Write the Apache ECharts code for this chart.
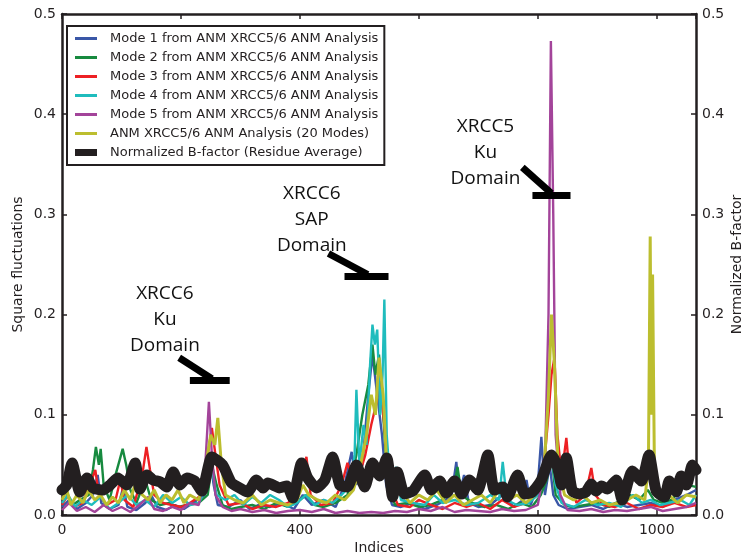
<!DOCTYPE html>
<html>
<head>
<meta charset="utf-8">
<script src="https://cdn.jsdelivr.net/npm/echarts@6/dist/echarts.min.js"></script>
<style>
	html, body { margin: 0; padding: 0; background: #fff; }
	#chart { width: 743px; height: 557px; }
</style>
</head>
<body>
<div id="chart"></div>
<script>
const seriesNames = [
	'Mode 1 from ANM XRCC5/6 ANM Analysis',
	'Mode 2 from ANM XRCC5/6 ANM Analysis',
	'Mode 3 from ANM XRCC5/6 ANM Analysis',
	'Mode 4 from ANM XRCC5/6 ANM Analysis',
	'Mode 5 from ANM XRCC5/6 ANM Analysis',
	'ANM XRCC5/6 ANM Analysis (20 Modes)',
	'Normalized B-factor (Residue Average)'
];
const colors = ['#3a57a7', '#178a3f', '#ed2024', '#1fbcbd', '#a3449a', '#bcbe2f', '#231f20'];

// [index, square fluctuation]
const mode1 = [[0,0.008],[12,0.015],[25,0.006],[40,0.012],[52,0.02],[60,0.04],[66,0.012],[80,0.006],[95,0.01],[103,0.028],[110,0.008],[125,0.005],[140,0.012],[150,0.02],[160,0.008],[175,0.005],[190,0.01],[205,0.006],[220,0.012],[240,0.02],[248,0.06],[255,0.03],[262,0.01],[280,0.008],[300,0.015],[315,0.006],[330,0.01],[350,0.008],[370,0.012],[390,0.006],[405,0.02],[420,0.01],[440,0.015],[460,0.008],[475,0.03],[487,0.063],[495,0.03],[505,0.05],[515,0.12],[522,0.16],[530,0.12],[538,0.08],[545,0.03],[555,0.01],[570,0.008],[590,0.012],[610,0.006],[630,0.01],[645,0.015],[655,0.02],[663,0.053],[668,0.02],[676,0.04],[684,0.012],[700,0.008],[720,0.01],[740,0.02],[760,0.008],[775,0.015],[781,0.035],[788,0.01],[800,0.03],[806,0.078],[812,0.02],[820,0.05],[826,0.02],[835,0.01],[850,0.006],[870,0.008],[890,0.01],[910,0.006],[930,0.012],[950,0.008],[970,0.01],[990,0.012],[1010,0.008],[1030,0.015],[1050,0.02],[1066,0.025]];
const mode2 = [[0,0.03],[8,0.02],[18,0.01],[30,0.015],[45,0.02],[52,0.045],[57,0.068],[62,0.05],[65,0.066],[70,0.03],[80,0.015],[90,0.04],[97,0.055],[102,0.066],[108,0.05],[115,0.025],[125,0.012],[140,0.035],[150,0.015],[165,0.01],[180,0.012],[195,0.008],[210,0.01],[230,0.012],[245,0.02],[252,0.05],[260,0.03],[270,0.01],[285,0.006],[300,0.008],[320,0.01],[340,0.006],[360,0.012],[380,0.008],[400,0.015],[410,0.02],[425,0.01],[440,0.008],[460,0.012],[480,0.02],[495,0.06],[505,0.1],[515,0.13],[522,0.17],[527,0.14],[533,0.16],[540,0.1],[548,0.03],[560,0.01],[580,0.012],[600,0.008],[620,0.01],[640,0.015],[660,0.03],[665,0.048],[672,0.02],[690,0.012],[710,0.008],[730,0.01],[750,0.006],[770,0.012],[790,0.008],[805,0.02],[815,0.035],[823,0.06],[830,0.02],[845,0.01],[860,0.008],[880,0.01],[900,0.012],[920,0.008],[940,0.015],[955,0.02],[970,0.015],[985,0.025],[995,0.015],[1010,0.012],[1025,0.015],[1040,0.025],[1050,0.03],[1066,0.028]];
const mode3 = [[0,0.01],[10,0.02],[20,0.008],[35,0.012],[50,0.035],[56,0.045],[62,0.02],[75,0.01],[90,0.015],[98,0.035],[105,0.015],[120,0.008],[135,0.04],[142,0.068],[148,0.045],[155,0.02],[170,0.012],[185,0.01],[200,0.008],[215,0.012],[235,0.02],[245,0.06],[252,0.087],[258,0.06],[265,0.03],[280,0.01],[300,0.012],[320,0.006],[340,0.01],[360,0.008],[380,0.012],[395,0.02],[405,0.045],[411,0.058],[418,0.02],[435,0.01],[455,0.012],[470,0.03],[480,0.052],[490,0.035],[500,0.04],[510,0.06],[520,0.09],[528,0.11],[535,0.13],[542,0.09],[550,0.03],[565,0.01],[585,0.008],[600,0.015],[620,0.01],[640,0.006],[660,0.012],[680,0.008],[700,0.012],[720,0.006],[740,0.015],[760,0.008],[780,0.012],[800,0.02],[812,0.06],[818,0.1],[823,0.14],[828,0.157],[833,0.08],[840,0.04],[848,0.077],[855,0.03],[865,0.012],[880,0.02],[890,0.047],[897,0.02],[910,0.01],[930,0.008],[950,0.012],[970,0.006],[990,0.01],[1010,0.008],[1030,0.012],[1050,0.008],[1066,0.01]];
const mode4 = [[0,0.012],[10,0.02],[22,0.008],[35,0.015],[50,0.01],[65,0.018],[80,0.006],[95,0.012],[110,0.02],[125,0.01],[140,0.015],[155,0.008],[170,0.02],[185,0.012],[200,0.018],[215,0.01],[230,0.012],[245,0.03],[252,0.045],[260,0.02],[275,0.015],[290,0.02],[305,0.01],[320,0.018],[335,0.012],[350,0.02],[365,0.015],[380,0.008],[395,0.012],[410,0.02],[425,0.01],[440,0.015],[455,0.012],[470,0.02],[485,0.03],[492,0.06],[495,0.125],[500,0.05],[507,0.09],[512,0.07],[518,0.15],[522,0.19],[526,0.17],[530,0.185],[535,0.1],[539,0.14],[542,0.215],[546,0.08],[552,0.03],[562,0.048],[570,0.015],[590,0.012],[610,0.01],[625,0.02],[640,0.012],[660,0.015],[680,0.01],[700,0.012],[720,0.02],[735,0.015],[741,0.053],[748,0.015],[765,0.01],[785,0.012],[800,0.02],[815,0.04],[823,0.06],[830,0.03],[840,0.012],[860,0.008],[880,0.015],[900,0.01],[920,0.012],[940,0.008],[960,0.02],[975,0.012],[990,0.015],[1005,0.01],[1020,0.012],[1040,0.015],[1055,0.01],[1066,0.02]];
const mode5 = [[0,0.005],[12,0.012],[25,0.004],[40,0.008],[55,0.003],[70,0.01],[85,0.004],[100,0.008],[115,0.003],[130,0.01],[145,0.018],[155,0.006],[170,0.004],[185,0.008],[200,0.005],[215,0.012],[230,0.01],[240,0.04],[247,0.113],[252,0.06],[258,0.02],[270,0.008],[285,0.004],[300,0.006],[320,0.003],[340,0.005],[360,0.002],[380,0.004],[400,0.005],[420,0.003],[440,0.006],[460,0.002],[480,0.004],[500,0.002],[520,0.003],[540,0.002],[560,0.004],[580,0.003],[600,0.006],[620,0.004],[640,0.008],[660,0.003],[680,0.005],[700,0.004],[720,0.003],[740,0.006],[760,0.004],[780,0.005],[800,0.01],[812,0.05],[818,0.2],[822,0.473],[826,0.3],[830,0.08],[838,0.02],[850,0.005],[870,0.004],[890,0.006],[910,0.003],[930,0.005],[950,0.004],[970,0.006],[990,0.008],[1010,0.004],[1030,0.006],[1050,0.008],[1066,0.012]];
const allModes = [[0,0.015],[8,0.025],[15,0.01],[25,0.02],[35,0.012],[45,0.025],[55,0.015],[65,0.02],[75,0.01],[85,0.018],[95,0.012],[105,0.025],[115,0.015],[125,0.035],[135,0.02],[145,0.015],[155,0.025],[165,0.012],[175,0.02],[185,0.015],[195,0.025],[205,0.012],[215,0.02],[230,0.015],[242,0.05],[250,0.08],[257,0.07],[262,0.097],[268,0.05],[275,0.02],[290,0.015],[305,0.012],[320,0.02],[335,0.01],[350,0.015],[365,0.012],[380,0.01],[395,0.015],[405,0.03],[415,0.02],[430,0.015],[445,0.012],[460,0.02],[475,0.015],[490,0.025],[502,0.05],[512,0.08],[520,0.12],[527,0.1],[533,0.157],[540,0.12],[546,0.05],[555,0.015],[570,0.025],[585,0.012],[600,0.02],[615,0.015],[630,0.025],[645,0.012],[660,0.02],[675,0.01],[690,0.015],[705,0.02],[720,0.012],[735,0.025],[750,0.015],[765,0.02],[780,0.012],[795,0.02],[810,0.04],[818,0.12],[823,0.2],[828,0.15],[834,0.05],[845,0.02],[860,0.015],[875,0.02],[890,0.012],[905,0.015],[920,0.01],[935,0.012],[950,0.015],[965,0.02],[980,0.015],[986,0.05],[989,0.278],[991,0.1],[993,0.24],[996,0.05],[1005,0.015],[1020,0.02],[1035,0.012],[1050,0.02],[1066,0.018]];
// [index, normalized B-factor]
const bfactor = [[0,0.025],[8,0.03],[17,0.052],[30,0.023],[42,0.037],[52,0.027],[69,0.025],[81,0.03],[94,0.037],[109,0.03],[123,0.052],[131,0.026],[143,0.04],[153,0.035],[165,0.033],[176,0.028],[187,0.043],[198,0.03],[210,0.037],[223,0.034],[235,0.024],[252,0.058],[270,0.05],[285,0.032],[302,0.026],[312,0.023],[327,0.035],[338,0.027],[346,0.032],[358,0.029],[365,0.027],[378,0.029],[388,0.017],[403,0.052],[413,0.037],[428,0.027],[442,0.035],[455,0.058],[467,0.03],[480,0.028],[495,0.05],[509,0.028],[522,0.052],[534,0.039],[546,0.057],[556,0.018],[564,0.043],[576,0.021],[590,0.024],[610,0.04],[621,0.025],[635,0.034],[646,0.022],[660,0.034],[672,0.021],[685,0.035],[699,0.025],[716,0.06],[727,0.025],[741,0.028],[749,0.018],[766,0.04],[778,0.021],[791,0.023],[806,0.035],[823,0.06],[833,0.048],[840,0.03],[848,0.057],[858,0.024],[870,0.021],[881,0.023],[890,0.031],[898,0.024],[907,0.029],[917,0.026],[932,0.035],[942,0.015],[959,0.044],[974,0.034],[987,0.06],[999,0.024],[1013,0.018],[1021,0.034],[1033,0.023],[1041,0.039],[1050,0.03],[1060,0.05],[1066,0.045]];

// domain call-outs, in data coordinates
const annoText = ['XRCC6\nKu\nDomain', 'XRCC6\nSAP\nDomain', 'XRCC5\nKu\nDomain'];
const annoAt = [[173, 0.195], [420, 0.295], [712, 0.362]];
const arrowSegments = [
	[[197, 0.157], [252, 0.136]], [[215, 0.134], [282, 0.134]],
	[[448, 0.261], [514, 0.240]], [[475, 0.2385], [549, 0.2385]],
	[[774, 0.347], [823, 0.321]], [[791, 0.319], [855, 0.319]]
];

const modeData = [mode1, mode2, mode3, mode4, mode5, allModes];
const ink = '#231f20';

var chart = echarts.init(document.getElementById('chart'));

let series = [];
for (let i = 0; i < modeData.length; i++) {
	series.push({
		name: seriesNames[i],
		type: 'line',
		data: modeData[i],
		symbol: 'none',
		lineStyle: { width: i == 5 ? 3 : 2.4, color: colors[i] },
		itemStyle: { color: colors[i] }
	});
}
series.push({
	name: seriesNames[6],
	type: 'line',
	yAxisIndex: 1,
	data: bfactor,
	symbol: 'none',
	smooth: 0.2,
	lineStyle: { width: 11, color: ink, join: 'round', cap: 'round' },
	itemStyle: { color: ink }
});
series.push({
	type: 'lines',
	coordinateSystem: 'cartesian2d',
	silent: true,
	z: 5,
	lineStyle: { color: '#000', width: 7, opacity: 1 },
	data: arrowSegments.map((c) => ({ coords: c }))
});
series.push({
	type: 'scatter',
	silent: true,
	symbolSize: 1,
	z: 6,
	itemStyle: { color: 'rgba(0,0,0,0)', opacity: 1 },
	label: {
		show: true,
		position: 'inside',
		formatter: (p) => annoText[p.dataIndex],
		fontFamily: 'Open Sans',
		fontSize: 19,
		lineHeight: 26,
		color: '#111',
		opacity: 1
	},
	data: annoAt
});

const tickStyle = { inside: true, length: 5, lineStyle: { color: ink, width: 1.5 } };
const lineStyle = { show: true, onZero: false, lineStyle: { color: ink, width: 2.5 } };
const labelStyle = { color: ink, fontFamily: 'DejaVu Sans', fontSize: 14 };
const nameStyle = { color: ink, fontFamily: 'DejaVu Sans', fontSize: 14 };

var option = {
	animation: false,
	grid: { left: 62, right: 47, top: 14, bottom: 42, outerBoundsMode: 'none', containLabel: false },
	legend: {
		data: seriesNames.map((n, i) => ({
			name: n,
			icon: i == 6 ? 'path://M0,0H22V7H0Z' : 'path://M0,0H22V3H0Z'
		})),
		orient: 'vertical',
		left: 67,
		top: 26,
		itemWidth: 22,
		itemHeight: 13,
		itemGap: 6,
		padding: [6, 6, 6, 8],
		borderColor: ink,
		borderWidth: 2,
		backgroundColor: '#fff',
		textStyle: { color: ink, fontFamily: 'DejaVu Sans', fontSize: 13, padding: [0, 0, 0, 8] }
	},
	xAxis: [
		{
			type: 'value',
			min: 0,
			max: 1066,
			interval: 200,
			name: 'Indices',
			nameLocation: 'middle',
			nameGap: 26,
			nameMoveOverlap: false,
			nameTextStyle: nameStyle,
			axisLine: lineStyle,
			axisTick: tickStyle,
			axisLabel: Object.assign({ showMaxLabel: false, formatter: (v) => (v % 200 == 0 ? v : '') }, labelStyle),
			splitLine: { show: false }
		},
		{
			type: 'value',
			position: 'top',
			min: 0,
			max: 1066,
			interval: 200,
			axisLine: lineStyle,
			axisTick: tickStyle,
			axisLabel: { show: false },
			splitLine: { show: false }
		}
	],
	yAxis: [
		{
			type: 'value',
			min: 0,
			max: 0.5,
			interval: 0.1,
			name: 'Square fluctuations',
			nameLocation: 'middle',
			nameRotate: 90,
			nameGap: 37,
			nameMoveOverlap: false,
			nameTextStyle: nameStyle,
			axisLine: lineStyle,
			axisTick: tickStyle,
			axisLabel: Object.assign({ formatter: (v) => v.toFixed(1), margin: 6 }, labelStyle),
			splitLine: { show: false }
		},
		{
			type: 'value',
			position: 'right',
			min: 0,
			max: 0.5,
			interval: 0.1,
			name: 'Normalized B-factor',
			nameLocation: 'middle',
			nameRotate: 90,
			nameGap: 34,
			nameMoveOverlap: false,
			nameTextStyle: nameStyle,
			axisLine: lineStyle,
			axisTick: tickStyle,
			axisLabel: Object.assign({ formatter: (v) => v.toFixed(1), margin: 6 }, labelStyle),
			splitLine: { show: false }
		}
	],
	series: series
};

chart.setOption(option);
</script>
</body>
</html>
